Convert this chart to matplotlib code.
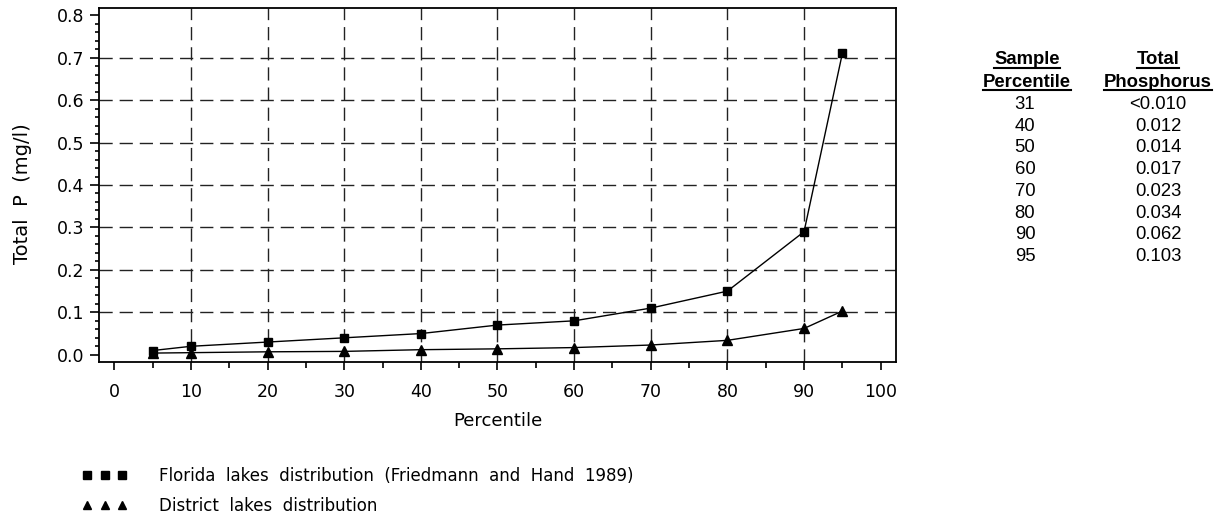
import matplotlib
matplotlib.use("Agg")
import matplotlib.pyplot as plt
from matplotlib.lines import Line2D
from matplotlib.ticker import MultipleLocator

# percentile values and total phosphorus (mg/l)
percentiles = [5, 10, 20, 30, 40, 50, 60, 70, 80, 90, 95]
florida_tp = [0.01, 0.02, 0.03, 0.04, 0.05, 0.07, 0.08, 0.11, 0.15, 0.29, 0.71]
district_tp = [0.004, 0.005, 0.007, 0.008, 0.012, 0.014, 0.017, 0.023, 0.034, 0.062, 0.103]

# side table
table_pct = ["31", "40", "50", "60", "70", "80", "90", "95"]
table_tp = ["<0.010", "0.012", "0.014", "0.017", "0.023", "0.034", "0.062", "0.103"]

x_grid = [10, 20, 30, 40, 50, 60, 70, 80, 90]
y_grid = [0.1, 0.2, 0.3, 0.4, 0.5, 0.6, 0.7]

W, H = 1219, 516
fig = plt.figure(figsize=(W / 100, H / 100), dpi=100)
ax = fig.add_axes([99 / W, 1 - 362 / H, (896 - 99) / W, (362 - 8) / H])

dash = (0, (9.5, 5))
for xv in x_grid:
    ax.axvline(xv, color="#222222", lw=1, linestyle=dash, zorder=1)
for yv in y_grid:
    ax.axhline(yv, color="#222222", lw=1, linestyle=dash, zorder=1)

ax.plot(percentiles, florida_tp, color="black", lw=1, marker="s", ms=6.3, zorder=3)
ax.plot(percentiles, district_tp, color="black", lw=1, marker="^", ms=6.8, zorder=3)

ax.set_xlim(-2, 102)
ax.set_ylim(-0.017, 0.817)
ax.xaxis.set_major_locator(MultipleLocator(10))
ax.xaxis.set_minor_locator(MultipleLocator(5))
ax.yaxis.set_major_locator(MultipleLocator(0.1))
ax.yaxis.set_minor_locator(MultipleLocator(0.02))
ax.yaxis.set_major_formatter(lambda v, p: f"{v:.1f}")

ax.tick_params(axis="x", which="major", direction="out", length=6, width=1.2, labelsize=12.5, pad=9)
ax.tick_params(axis="x", which="minor", direction="out", length=4, width=1.2)
ax.tick_params(axis="y", which="major", direction="out", length=6.5, width=1.2, labelsize=12.5, pad=4)
ax.tick_params(axis="y", which="minor", direction="out", length=3.2, width=1.2)
for s in ax.spines.values():
    s.set_linewidth(1.3)

ax.set_xlabel("Percentile", fontsize=13, labelpad=8)
ax.set_ylabel("Total  P  (mg/l)", fontsize=14)
ax.yaxis.set_label_coords(-0.084, 0.477)

# legend below the plot
handles = [
    Line2D([], [], color="black", linestyle="none", marker="s", ms=6),
    Line2D([], [], color="black", linestyle="none", marker="^", ms=6),
]
labels = ["Florida  lakes  distribution  (Friedmann  and  Hand  1989)", "District  lakes  distribution"]
fig.legend(handles, labels, loc="upper left", bbox_to_anchor=(82 / W, 1 - 467 / H),
           frameon=False, numpoints=3, handlelength=2.7, handletextpad=1.9,
           labelspacing=0.72, borderpad=0, borderaxespad=0, fontsize=12)

# side table
tfont = dict(family="Liberation Sans", fontsize=13.3, ha="center", va="center")
c1, c2 = 1027 / W, 1158 / W
heads = [("Sample", c1, 60), ("Percentile", c1, 82), ("Total", c2, 60), ("Phosphorus", c2, 82)]
head_texts = [fig.text(x, 1 - y / H, s, fontweight="bold", **tfont) for s, x, y in heads]
for i, (p, v) in enumerate(zip(table_pct, table_tp)):
    y = 1 - (104.5 + i * 21.7) / H
    fig.text(c1 - 2 / W, y, p, **tfont)
    fig.text(c2, y, v, **tfont)

fig.canvas.draw()
r = fig.canvas.get_renderer()
for t in head_texts:
    bb = t.get_window_extent(r)
    yl = (bb.y0 + 1) / H
    fig.add_artist(Line2D([bb.x0 / W, bb.x1 / W], [yl, yl], color="black", lw=1.5))

fig.savefig("out.png", dpi=100)
